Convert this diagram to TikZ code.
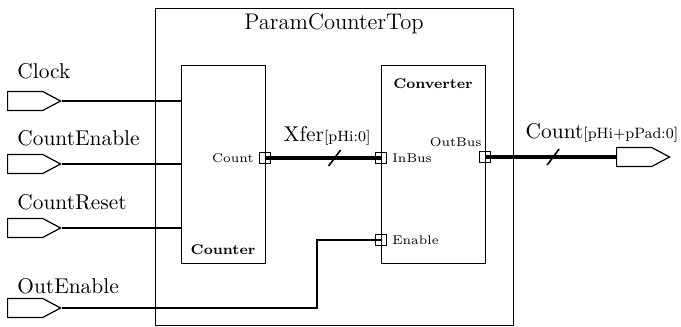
\documentclass[tikz,border=0pt]{standalone}
\usetikzlibrary{shapes.symbols,calc}
\begin{document}
\begin{tikzpicture}[x=0.5pt,y=-0.5pt,
 blk/.style={draw, line width=0.7pt, inner sep=0, anchor=north west},
 port/.style={draw, line width=0.6pt, minimum size=5.5pt, inner sep=0},
 wire/.style={line width=0.65pt},
 bus/.style={line width=2pt},
 pin/.style={signal, signal to=east, draw, line width=0.6pt, minimum width=26.5pt, minimum height=9.5pt, inner sep=0, signal pointer angle=56, anchor=west},
 lab/.style={font=\fontsize{10.7}{12}\selectfont, anchor=base west, inner sep=0},
 plab/.style={font=\fontsize{6.3}{7}\selectfont, inner sep=0},
 ttl/.style={font=\bfseries\fontsize{7}{8}\selectfont, inner sep=0},
 slash/.style={line width=0.8pt}]
\useasboundingbox (0,0) rectangle (681,327);
% outer block
\node[blk, minimum width=179pt, minimum height=158.5pt] (top) at (155,8) {};
\node[font=\fontsize{11.3}{13}\selectfont, anchor=base, inner sep=0] (ttl) at (334,29) {ParamCounterTop};
% inner blocks
\node[blk, minimum width=42pt, minimum height=99pt] (cnt) at (181,65) {};
\node[blk, minimum width=52pt, minimum height=99pt] (cnv) at (381,65) {};
\node[ttl] (cntname) at (223,250) {Counter};
\node[ttl] (cnvname) at (433,84) {Converter};
% ports
\node[port] (pcount) at (265,158) {};
\node[port] (pinbus) at (381,158) {};
\node[port] (pen) at (381,240) {};
\node[port] (pout) at (485,157) {};
\node[plab, anchor=east] (lcount) at (254,158) {Count};
\node[plab, anchor=west] (linbus) at (392,158) {InBus};
\node[plab, anchor=west] (len) at (392,240) {Enable};
\node[plab, anchor=east] (lout) at (482,142) {OutBus};
% input pins
\node[pin] (clk) at (7,101) {};
\node[pin] (ce) at (7,164) {};
\node[pin] (cr) at (7,228) {};
\node[pin] (oe) at (7,308) {};
\node[lab] (lclk) at (17,78) {Clock};
\node[lab] (lce) at (17,145) {CountEnable};
\node[lab] (lcr) at (17,209) {CountReset};
\node[lab] (loe) at (17,293) {OutEnable};
% output pin
\node[pin] (outp) at (616,157) {};
% wires
\draw[wire] (clk.east) -- (clk.east -| cnt.west);
\draw[wire] (ce.east) -- (ce.east -| cnt.west);
\draw[wire] (cr.east) -- (cr.east -| cnt.west);
\coordinate (bx) at (317,0);
\draw[wire] (oe.east) -- (oe.east -| bx) -- (bx |- pen) -- (pen.center);
% buses
\draw[bus] (pcount.center) -- (pinbus.center);
\draw[slash] ($(pcount.center)!0.6!(pinbus.center)$) +(-6,8) -- +(6,-8);
\node[anchor=base, inner sep=0] (xfer) at (327,141) {\fontsize{10.7}{12}\selectfont Xfer\fontsize{7.5}{9}\selectfont[pHi:0]};
\draw[bus] (pout.center) -- (outp.west);
\draw[slash] ($(pout.center)!0.52!(outp.west)$) +(-6,8) -- +(6,-8);
\node[anchor=base, inner sep=0] (cntlab) at (602,138) {\fontsize{10.7}{12}\selectfont Count\fontsize{7.5}{9}\selectfont[pHi+pPad:0]};
\end{tikzpicture}
\end{document}
